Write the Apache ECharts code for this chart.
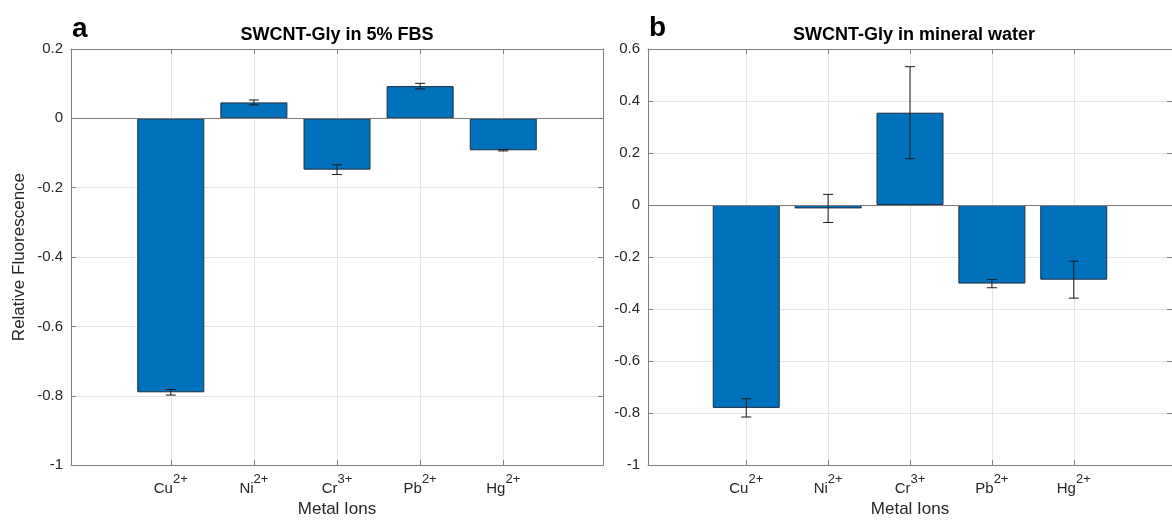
<!DOCTYPE html>
<html>
<head>
<meta charset="utf-8">
<script src="https://cdn.jsdelivr.net/npm/echarts@6/dist/echarts.min.js"></script>
<style>
  html, body { margin: 0; padding: 0; background: #fff; overflow: hidden; width: 1172px; height: 523px; }
  #chart { display: block; width: 1172px; height: 523px; }
</style>
</head>
<body>
<div id="chart"></div>
<script>
// Metal ions and their charges (superscripts)
const categories = ['Cu', 'Ni', 'Cr', 'Pb', 'Hg'];
const charges = ['2+', '2+', '3+', '2+', '2+'];

// Panel a: SWCNT-Gly in 5% FBS
const fbsValues = [-0.79, 0.046, -0.148, 0.093, -0.092];
const fbsErrors = [0.008, 0.007, 0.014, 0.008, 0.002];
const fbsTicks = [-1, -0.8, -0.6, -0.4, -0.2, 0, 0.2];

// Panel b: SWCNT-Gly in mineral water
const waterValues = [-0.78, -0.013, 0.355, -0.302, -0.287];
const waterErrors = [0.035, 0.054, 0.177, 0.016, 0.071];
const waterTicks = [-1, -0.8, -0.6, -0.4, -0.2, 0, 0.2, 0.4, 0.6];

const FONT = "'Liberation Sans', Arial, Helvetica, sans-serif";
const TEXT = '#262626';
const AXIS = '#808080';
const GRID = '#e4e4e4';
const BAR = '#0072BD';

const positions = categories.map((c, i) => i + 1);

function fmtTick(v) {
  const r = Math.round(v * 10) / 10;
  return String(r);
}

function xAxes(gridIndex) {
  const common = {
    gridIndex, type: 'value', min: -0.2, max: 6.2,
    axisLine: { show: true, onZero: false, lineStyle: { color: AXIS, width: 1 } }
  };
  return [
    Object.assign({}, common, {
      position: 'bottom',
      name: 'Metal Ions', nameLocation: 'middle', nameGap: 34,
      nameTextStyle: { fontFamily: FONT, fontSize: 17, color: TEXT },
      axisTick: { show: true, inside: true, length: 5, customValues: positions, lineStyle: { color: AXIS } },
      axisLabel: {
        customValues: positions, margin: 8,
        formatter: v => {
          const i = Math.round(v) - 1;
          return '{b|' + categories[i] + '}{s|' + charges[i] + '}';
        },
        rich: {
          b: { fontFamily: FONT, fontSize: 15, color: TEXT, lineHeight: 23, verticalAlign: 'bottom' },
          s: { fontFamily: FONT, fontSize: 13, color: TEXT, lineHeight: 13, verticalAlign: 'top' }
        }
      },
      splitLine: { show: true, lineStyle: { color: GRID, width: 1 } }
    }),
    Object.assign({}, common, {
      position: 'top',
      axisTick: { show: true, inside: true, length: 5, customValues: positions, lineStyle: { color: AXIS } },
      axisLabel: { show: false },
      splitLine: { show: false }
    })
  ];
}

function yAxes(gridIndex, ticks, withName) {
  const min = ticks[0], max = ticks[ticks.length - 1];
  const common = {
    gridIndex, type: 'value', min, max, interval: 0.2,
    axisLine: { show: true, onZero: false, lineStyle: { color: AXIS, width: 1 } }
  };
  const left = Object.assign({}, common, {
    position: 'left',
    axisTick: { show: true, inside: true, length: 5, lineStyle: { color: AXIS } },
    axisLabel: { show: true, margin: 8, formatter: fmtTick, fontFamily: FONT, fontSize: 15, color: TEXT },
    splitLine: { show: true, lineStyle: { color: GRID, width: 1 } }
  });
  if (withName) {
    left.name = 'Relative Fluorescence';
    left.nameLocation = 'middle';
    left.nameGap = 43;
    left.nameTextStyle = { fontFamily: FONT, fontSize: 17, color: TEXT };
  }
  const right = Object.assign({}, common, {
    position: 'right',
    axisTick: { show: true, inside: true, length: 5, lineStyle: { color: AXIS } },
    axisLabel: { show: false },
    splitLine: { show: false }
  });
  return [left, right];
}

function barSeries(axisIndex, values) {
  return {
    type: 'bar', xAxisIndex: axisIndex, yAxisIndex: axisIndex,
    data: values.map((v, i) => [positions[i], v]),
    barWidth: 67,
    itemStyle: { color: BAR, borderColor: '#1f2f3f', borderWidth: 1 },
    silent: true,
    z: 3,
    markLine: {
      silent: true, symbol: 'none',
      label: { show: false },
      lineStyle: { color: '#7a7a7a', type: 'solid', width: 1 },
      data: [{ yAxis: 0 }]
    }
  };
}

function errorSeries(axisIndex, values, errors) {
  return {
    type: 'custom', xAxisIndex: axisIndex, yAxisIndex: axisIndex,
    data: values.map((v, i) => [positions[i], v - errors[i], v + errors[i]]),
    silent: true,
    z: 5,
    renderItem: (params, api) => {
      const x = api.value(0);
      const lo = api.coord([x, api.value(1)]);
      const hi = api.coord([x, api.value(2)]);
      const hw = 5;
      const style = { stroke: '#1a1a1a', lineWidth: 1 };
      return {
        type: 'group',
        children: [
          { type: 'line', shape: { x1: lo[0], y1: lo[1], x2: hi[0], y2: hi[1] }, style },
          { type: 'line', shape: { x1: lo[0] - hw, y1: lo[1], x2: lo[0] + hw, y2: lo[1] }, style },
          { type: 'line', shape: { x1: hi[0] - hw, y1: hi[1], x2: hi[0] + hw, y2: hi[1] }, style }
        ]
      };
    }
  };
}

const chart = echarts.init(document.getElementById('chart'), null, { renderer: 'canvas', width: 1172, height: 523 });

const option = {
  animation: false,
  backgroundColor: '#ffffff',
  grid: [
    { left: 71, top: 49, width: 532, height: 421, show: false },
    { left: 648, top: 49, width: 533, height: 421, show: false }
  ],
  // axes 0/1: panel a (bottom/top, left/right); axes 2/3: panel b
  xAxis: xAxes(0).concat(xAxes(1)),
  yAxis: yAxes(0, fbsTicks, true).concat(yAxes(1, waterTicks, false)),
  series: [
    barSeries(0, fbsValues),
    errorSeries(0, fbsValues, fbsErrors),
    barSeries(2, waterValues),
    errorSeries(2, waterValues, waterErrors)
  ],
  graphic: [
    { type: 'text', x: 337, y: 35, style: { text: 'SWCNT-Gly in 5% FBS', font: 'bold 18px ' + FONT, fill: '#000', align: 'center', verticalAlign: 'middle' } },
    { type: 'text', x: 914, y: 35, style: { text: 'SWCNT-Gly in mineral water', font: 'bold 18px ' + FONT, fill: '#000', align: 'center', verticalAlign: 'middle' } },
    { type: 'text', x: 72, y: 29, style: { text: 'a', font: 'bold 28px ' + FONT, fill: '#000', align: 'left', verticalAlign: 'middle' } },
    { type: 'text', x: 649, y: 28, style: { text: 'b', font: 'bold 28px ' + FONT, fill: '#000', align: 'left', verticalAlign: 'middle' } }
  ]
};

chart.setOption(option);
</script>
</body>
</html>
